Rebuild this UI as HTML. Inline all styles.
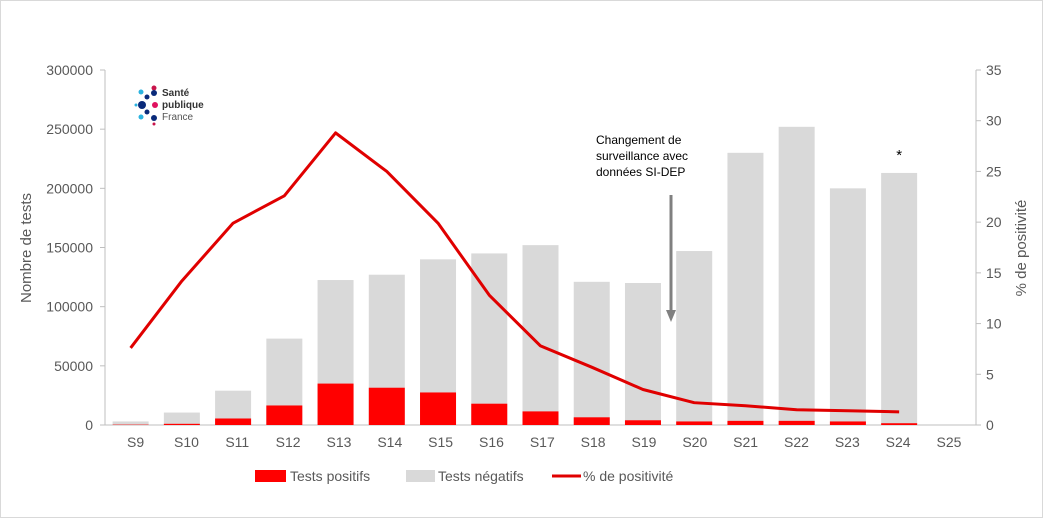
<!DOCTYPE html>
<html><head><meta charset="utf-8"><style>
body{margin:0;background:#fff}
svg{display:block;font-family:"Liberation Sans",sans-serif}
</style></head><body>
<svg id="c" width="1043" height="518">
<rect x="0.5" y="0.5" width="1042" height="517" fill="#fff" stroke="#d9d9d9"/>
<g id="g"></g>
</svg>
<script>
const categories=["S9","S10","S11","S12","S13","S14","S15","S16","S17","S18","S19","S20","S21","S22","S23","S24","S25"];
const totals=[3000,10500,29000,73000,122500,127000,140000,145000,152000,121000,120000,147000,230000,252000,200000,213000,0];
const positives=[300,1000,5500,16500,35000,31500,27500,18000,11500,6500,4000,3000,3500,3500,3000,1500,0];
const positivity=[7.6,14.2,19.9,22.6,28.8,25.0,19.9,12.8,7.8,5.7,3.5,2.2,1.9,1.5,1.4,1.3,null];
const leftTicks=[0,50000,100000,150000,200000,250000,300000];
const rightTicks=[0,5,10,15,20,25,30,35];
const NS="http://www.w3.org/2000/svg",g=document.getElementById("g");
const X0=105,X1=976,Y0=425,Y1=70,bw=(X1-X0)/categories.length;
const xc=i=>X0+bw*(i+0.5), yL=v=>Y0-(Y0-Y1)*v/300000, yR=v=>Y0-(Y0-Y1)*v/35;
function el(t,a,txt){const e=document.createElementNS(NS,t);for(const k in a)e.setAttribute(k,a[k]);if(txt!=null)e.textContent=txt;g.appendChild(e);return e;}
let e;
e=el("line",{x1:X0,y1:Y1,x2:X0,y2:Y0,stroke:"#bfbfbf"});


e=el("line",{x1:X1,y1:Y1,x2:X1,y2:Y0,stroke:"#bfbfbf"});


e=el("line",{x1:X0,y1:Y0,x2:X1,y2:Y0,stroke:"#bfbfbf"});


leftTicks.forEach(v=>{
 el("line",{x1:X0-5,y1:yL(v),x2:X0,y2:yL(v),stroke:"#bfbfbf"});
 e=el("text",{x:X0-12,y:yL(v)+5,"text-anchor":"end","font-size":14,fill:"#595959"},v);
 
 
});
rightTicks.forEach(v=>{
 el("line",{x1:X1,y1:yR(v),x2:X1+5,y2:yR(v),stroke:"#bfbfbf"});
 e=el("text",{x:X1+10,y:yR(v)+5,"font-size":14,fill:"#595959"},v);
 
 
});
categories.forEach((c,i)=>{
 e=el("text",{x:xc(i)+5-0.4*i,y:447,"text-anchor":"middle","font-size":14,fill:"#595959"},c);
 
 
 if(totals[i]>0){
  e=el("rect",{x:xc(i)-18,y:yL(totals[i]),width:36,height:Y0-yL(totals[i]),fill:"#d9d9d9"});
  
  
 }
 if(positives[i]>0){
  e=el("rect",{x:xc(i)-18,y:yL(positives[i]),width:36,height:Y0-yL(positives[i]),fill:"#ff0000"});
  
  
 }
});
const pts=positivity.map((v,i)=>v==null?null:xc(i)+","+yR(v)).filter(p=>p);
e=el("polyline",{points:pts.join(" "),fill:"none",stroke:"#e00000","stroke-width":3,"stroke-linejoin":"round"});


e=el("text",{transform:"translate(31,248) rotate(-90)","text-anchor":"middle","font-size":15,fill:"#595959"},"Nombre de tests");


e=el("text",{transform:"translate(1026,248) rotate(-90)","text-anchor":"middle","font-size":15,fill:"#595959"},"% de positivité");


["Changement  de","surveillance  avec","données  SI-DEP"].forEach((t,k)=>{
 e=el("text",{x:596,y:144+k*16,"font-size":12,fill:"#000"},t);
 
 
});
e=el("line",{x1:671,y1:195,x2:671,y2:312,stroke:"#808080","stroke-width":3});


el("polygon",{points:"666,310 676,310 671,322",fill:"#808080"});
e=el("text",{x:xc(15),y:160,"text-anchor":"middle","font-size":15,fill:"#000"},"*");


[[154,88,2.5,"#c8144b"],[141,92,2.5,"#2bb3e0"],[154,93,3,"#0a2a7a"],[147,97,2.5,"#0a2a7a"],[136,105,1.5,"#2bb3e0"],[142,105,4,"#0a2a7a"],[155,105,3,"#e0115f"],[147,112,2.5,"#0a2a7a"],[141,117,2.5,"#2bb3e0"],[154,118,3,"#0a2a7a"],[154,124,1.5,"#c8144b"]].forEach(d=>el("circle",{cx:d[0],cy:d[1],r:d[2],fill:d[3]}));
e=el("text",{x:162,y:96,"font-size":10,"font-weight":"bold",fill:"#333"},"Santé");


el("text",{x:162,y:108,"font-size":10,"font-weight":"bold",fill:"#333"},"publique");
el("text",{x:162,y:120,"font-size":10,fill:"#555"},"France");
e=el("rect",{x:255,y:470,width:31,height:12,fill:"#ff0000"});


el("text",{x:290,y:481,"font-size":14,fill:"#595959"},"Tests positifs");
e=el("rect",{x:406,y:470,width:29,height:12,fill:"#d9d9d9"});


el("text",{x:438,y:481,"font-size":14,fill:"#595959"},"Tests négatifs");
e=el("line",{x1:552,y1:476,x2:581,y2:476,stroke:"#e00000","stroke-width":3});


el("text",{x:583,y:481,"font-size":14,fill:"#595959"},"% de positivité");
</script>
</body></html>
